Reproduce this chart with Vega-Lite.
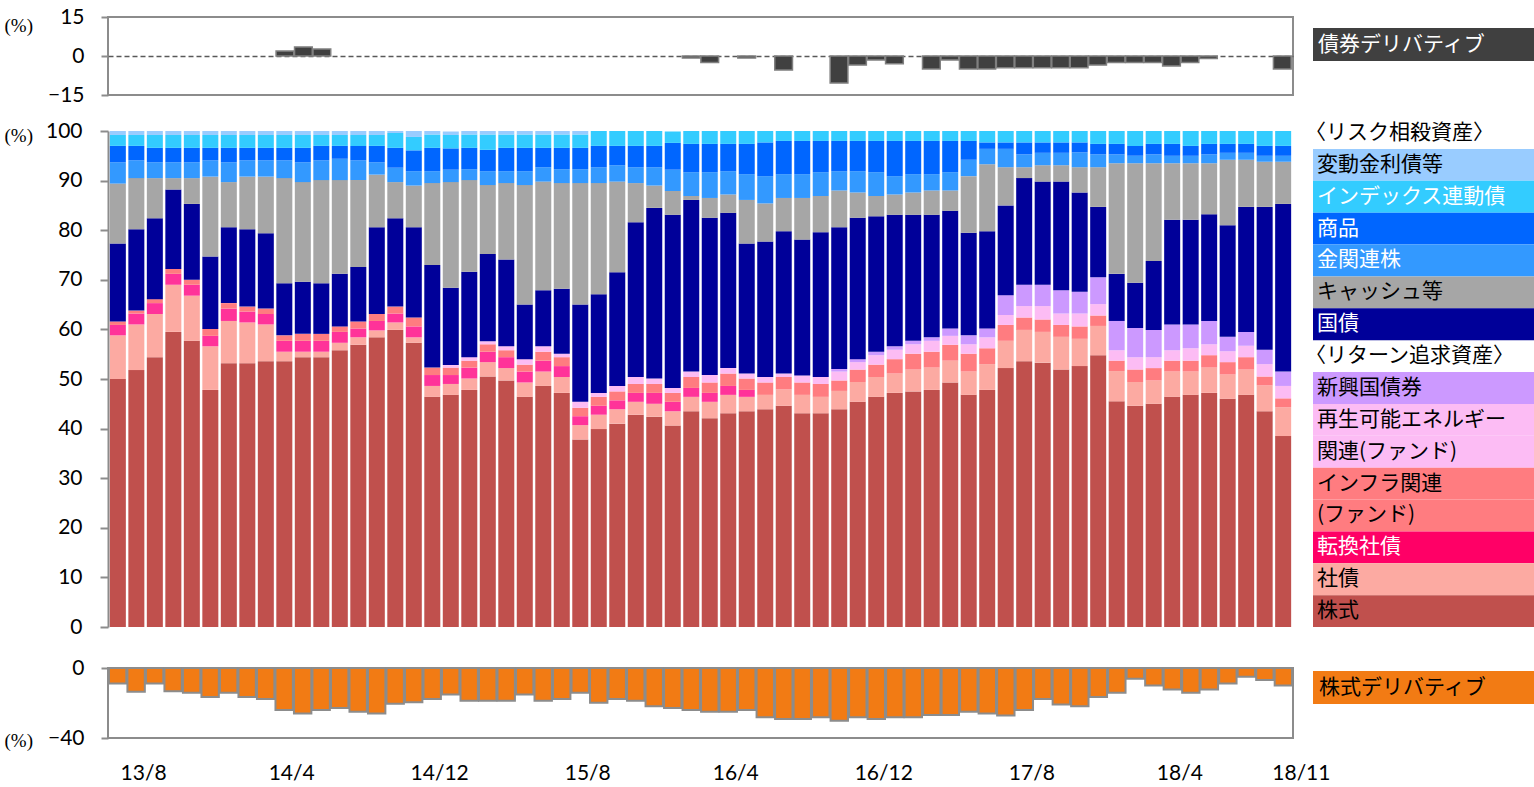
{
  "$schema": "https://vega.github.io/schema/vega-lite/v6.json",
  "padding": {"left": 3, "top": 5, "right": 0, "bottom": 0},
  "background": "white",
  "config": {"view": {"stroke": null}, "font": "Lato"},
  "datasets": {
    "alloc": [
      {"m":"13/8","eq":50.0,"corp":8.8,"conv":2.1,"infra":0.7,"renew":0,"em":0,"jgb":15.7,"cash":12.1,"gold":4.3,"cmdty":3.3,"linker":2.2,"floater":0.8,"bd":0,"ed":-8.8},
      {"m":"13/9","eq":51.8,"corp":9.2,"conv":2.2,"infra":0.6,"renew":0,"em":0,"jgb":16.4,"cash":10.3,"gold":3.6,"cmdty":2.9,"linker":2.2,"floater":0.8,"bd":0,"ed":-13.5},
      {"m":"13/10","eq":54.4,"corp":8.7,"conv":2.2,"infra":0.8,"renew":0,"em":0,"jgb":16.3,"cash":8.1,"gold":3.2,"cmdty":2.9,"linker":2.6,"floater":0.8,"bd":0,"ed":-8.8},
      {"m":"13/11","eq":59.5,"corp":9.5,"conv":2.2,"infra":1.0,"renew":0,"em":0,"jgb":16.0,"cash":2.3,"gold":3.2,"cmdty":2.9,"linker":2.6,"floater":0.8,"bd":0,"ed":-13.3},
      {"m":"13/12","eq":57.7,"corp":9.1,"conv":2.2,"infra":1.0,"renew":0,"em":0,"jgb":15.3,"cash":5.2,"gold":3.2,"cmdty":2.9,"linker":2.6,"floater":0.8,"bd":0,"ed":-14.2},
      {"m":"14/1","eq":47.8,"corp":8.8,"conv":2.1,"infra":1.4,"renew":0,"em":0,"jgb":14.6,"cash":16.1,"gold":3.3,"cmdty":2.5,"linker":2.6,"floater":0.8,"bd":0,"ed":-16.5},
      {"m":"14/2","eq":53.2,"corp":8.5,"conv":2.5,"infra":1.1,"renew":0,"em":0,"jgb":15.3,"cash":9.1,"gold":4.0,"cmdty":2.9,"linker":2.6,"floater":0.8,"bd":0,"ed":-14.2},
      {"m":"14/3","eq":53.2,"corp":8.2,"conv":2.2,"infra":1.0,"renew":0,"em":0,"jgb":15.6,"cash":10.6,"gold":3.3,"cmdty":2.5,"linker":2.6,"floater":0.8,"bd":0,"ed":-16.5},
      {"m":"14/4","eq":53.6,"corp":7.4,"conv":2.1,"infra":1.1,"renew":0,"em":0,"jgb":15.2,"cash":11.4,"gold":3.3,"cmdty":2.5,"linker":2.6,"floater":0.8,"bd":0,"ed":-17.7},
      {"m":"14/5","eq":53.6,"corp":1.9,"conv":2.2,"infra":1.1,"renew":0,"em":0,"jgb":10.5,"cash":21.2,"gold":3.6,"cmdty":2.5,"linker":2.6,"floater":0.8,"bd":1.9,"ed":-24.0},
      {"m":"14/6","eq":54.4,"corp":1.1,"conv":2.2,"infra":1.4,"renew":0,"em":0,"jgb":10.5,"cash":20.1,"gold":4.0,"cmdty":2.9,"linker":2.6,"floater":0.8,"bd":3.5,"ed":-26.0},
      {"m":"14/7","eq":54.4,"corp":1.1,"conv":2.2,"infra":1.4,"renew":0,"em":0,"jgb":10.2,"cash":20.8,"gold":4.0,"cmdty":2.9,"linker":2.2,"floater":0.8,"bd":2.7,"ed":-24.0},
      {"m":"14/8","eq":55.8,"corp":1.5,"conv":2.2,"infra":1.1,"renew":0,"em":0,"jgb":10.6,"cash":18.9,"gold":4.3,"cmdty":2.6,"linker":2.2,"floater":0.8,"bd":0,"ed":-22.9},
      {"m":"14/9","eq":56.9,"corp":1.5,"conv":1.8,"infra":1.4,"renew":0,"em":0,"jgb":11.0,"cash":17.5,"gold":4.0,"cmdty":2.9,"linker":2.2,"floater":0.8,"bd":0,"ed":-25.0},
      {"m":"14/10","eq":58.4,"corp":1.4,"conv":1.9,"infra":1.4,"renew":0,"em":0,"jgb":17.5,"cash":10.6,"gold":2.5,"cmdty":3.3,"linker":2.2,"floater":0.8,"bd":0,"ed":-26.0},
      {"m":"14/11","eq":59.9,"corp":1.5,"conv":1.8,"infra":1.4,"renew":0,"em":0,"jgb":17.8,"cash":7.3,"gold":2.9,"cmdty":4.0,"linker":3.0,"floater":0.4,"bd":0,"ed":-20.4},
      {"m":"14/12","eq":57.3,"corp":1.1,"conv":2.2,"infra":1.8,"renew":0,"em":0,"jgb":18.2,"cash":8.4,"gold":2.9,"cmdty":4.2,"linker":2.7,"floater":1.2,"bd":0,"ed":-19.6},
      {"m":"15/1","eq":46.4,"corp":2.2,"conv":2.2,"infra":1.5,"renew":0,"em":0,"jgb":20.7,"cash":16.5,"gold":2.4,"cmdty":4.7,"linker":2.7,"floater":0.7,"bd":0,"ed":-17.7},
      {"m":"15/2","eq":46.8,"corp":2.2,"conv":1.8,"infra":1.5,"renew":0.5,"em":0,"jgb":15.6,"cash":21.3,"gold":2.5,"cmdty":4.3,"linker":2.7,"floater":0.7,"bd":0,"ed":-15.2},
      {"m":"15/3","eq":47.8,"corp":2.3,"conv":2.2,"infra":1.4,"renew":0.7,"em":0,"jgb":17.2,"cash":18.5,"gold":2.2,"cmdty":4.3,"linker":2.7,"floater":0.7,"bd":0,"ed":-18.7},
      {"m":"15/4","eq":50.5,"corp":2.9,"conv":2.1,"infra":1.5,"renew":0.6,"em":0,"jgb":17.6,"cash":13.9,"gold":2.8,"cmdty":4.3,"linker":3.1,"floater":0.7,"bd":0,"ed":-18.7},
      {"m":"15/5","eq":49.7,"corp":2.5,"conv":2.2,"infra":1.4,"renew":0.8,"em":0,"jgb":17.5,"cash":15.4,"gold":2.4,"cmdty":4.7,"linker":2.7,"floater":0.7,"bd":0,"ed":-18.7},
      {"m":"15/6","eq":46.4,"corp":2.9,"conv":2.2,"infra":1.4,"renew":1.1,"em":0,"jgb":11.0,"cash":24.1,"gold":2.8,"cmdty":4.7,"linker":2.7,"floater":0.7,"bd":0,"ed":-15.2},
      {"m":"15/7","eq":48.6,"corp":2.9,"conv":2.2,"infra":1.8,"renew":1.1,"em":0,"jgb":11.3,"cash":21.9,"gold":2.9,"cmdty":3.9,"linker":2.7,"floater":0.7,"bd":0,"ed":-18.7},
      {"m":"15/8","eq":47.2,"corp":3.2,"conv":2.2,"infra":1.8,"renew":0.7,"em":0,"jgb":13.1,"cash":21.3,"gold":2.8,"cmdty":4.3,"linker":2.7,"floater":0.7,"bd":0,"ed":-17.7},
      {"m":"15/9","eq":37.8,"corp":2.9,"conv":1.8,"infra":1.7,"renew":1.2,"em":0,"jgb":19.6,"cash":24.5,"gold":2.8,"cmdty":4.3,"linker":2.7,"floater":0.7,"bd":0,"ed":-14.2},
      {"m":"15/10","eq":39.9,"corp":2.9,"conv":1.8,"infra":1.8,"renew":0.8,"em":0,"jgb":19.9,"cash":22.4,"gold":3.2,"cmdty":4.3,"linker":3.0,"floater":0,"bd":0,"ed":-19.8},
      {"m":"15/11","eq":41.0,"corp":2.9,"conv":1.8,"infra":1.8,"renew":1.1,"em":0,"jgb":22.9,"cash":18.3,"gold":3.3,"cmdty":3.9,"linker":3.0,"floater":0,"bd":0,"ed":-17.7},
      {"m":"15/12","eq":42.8,"corp":2.6,"conv":1.8,"infra":1.8,"renew":1.4,"em":0,"jgb":31.2,"cash":7.9,"gold":3.2,"cmdty":4.3,"linker":3.0,"floater":0,"bd":0,"ed":-18.7},
      {"m":"16/1","eq":42.4,"corp":2.6,"conv":2.2,"infra":1.8,"renew":1.1,"em":0,"jgb":34.4,"cash":4.5,"gold":3.7,"cmdty":4.3,"linker":3.0,"floater":0,"bd":0,"ed":-21.9},
      {"m":"16/2","eq":40.6,"corp":2.9,"conv":1.9,"infra":1.8,"renew":1.0,"em":0,"jgb":34.9,"cash":4.8,"gold":4.3,"cmdty":5.4,"linker":2.3,"floater":0,"bd":0,"ed":-22.9},
      {"m":"16/3","eq":43.5,"corp":2.9,"conv":1.8,"infra":2.2,"renew":1.1,"em":0,"jgb":34.6,"cash":0.8,"gold":4.8,"cmdty":5.7,"linker":2.6,"floater":0,"bd":-0.8,"ed":-24.0},
      {"m":"16/4","eq":42.1,"corp":3.3,"conv":1.8,"infra":2.1,"renew":1.5,"em":0,"jgb":31.7,"cash":4.0,"gold":5.2,"cmdty":5.7,"linker":2.6,"floater":0,"bd":-2.5,"ed":-25.0},
      {"m":"16/5","eq":43.1,"corp":3.7,"conv":1.8,"infra":2.5,"renew":1.1,"em":0,"jgb":31.3,"cash":3.7,"gold":4.7,"cmdty":5.5,"linker":2.6,"floater":0,"bd":0,"ed":-25.0},
      {"m":"16/6","eq":43.5,"corp":2.9,"conv":1.4,"infra":2.3,"renew":1.0,"em":0,"jgb":26.2,"cash":8.8,"gold":5.2,"cmdty":6.1,"linker":2.6,"floater":0,"bd":-0.8,"ed":-24.0},
      {"m":"16/7","eq":43.9,"corp":2.9,"conv":0,"infra":2.5,"renew":1.1,"em":0,"jgb":27.3,"cash":7.7,"gold":5.5,"cmdty":6.8,"linker":2.3,"floater":0,"bd":0,"ed":-28.1},
      {"m":"16/8","eq":44.6,"corp":3.3,"conv":0,"infra":2.5,"renew":0.7,"em":0,"jgb":28.7,"cash":6.7,"gold":4.8,"cmdty":6.7,"linker":2.0,"floater":0,"bd":-5.4,"ed":-29.2},
      {"m":"16/9","eq":43.1,"corp":3.7,"conv":0,"infra":2.5,"renew":1.4,"em":0,"jgb":27.4,"cash":8.4,"gold":4.8,"cmdty":6.7,"linker":2.0,"floater":0,"bd":0,"ed":-29.2},
      {"m":"16/10","eq":43.1,"corp":3.3,"conv":0,"infra":2.6,"renew":1.4,"em":0,"jgb":29.2,"cash":7.3,"gold":4.8,"cmdty":6.3,"linker":2.0,"floater":0,"bd":0,"ed":-28.1},
      {"m":"16/11","eq":43.9,"corp":3.7,"conv":0,"infra":2.1,"renew":1.8,"em":0.5,"jgb":28.6,"cash":7.4,"gold":3.9,"cmdty":6.1,"linker":2.0,"floater":0,"bd":-10.4,"ed":-30.2},
      {"m":"16/12","eq":45.4,"corp":4.0,"conv":0,"infra":2.5,"renew":1.5,"em":0.6,"jgb":28.5,"cash":5.1,"gold":4.3,"cmdty":6.1,"linker":2.0,"floater":0,"bd":-3.5,"ed":-28.1},
      {"m":"17/1","eq":46.4,"corp":4.0,"conv":0,"infra":2.5,"renew":1.9,"em":0.7,"jgb":27.3,"cash":4.1,"gold":4.8,"cmdty":6.3,"linker":2.0,"floater":0,"bd":-1.5,"ed":-29.2},
      {"m":"17/2","eq":47.2,"corp":3.9,"conv":0,"infra":2.9,"renew":1.9,"em":0.7,"jgb":26.5,"cash":4.1,"gold":3.7,"cmdty":7.1,"linker":2.0,"floater":0,"bd":-3.0,"ed":-28.1},
      {"m":"17/3","eq":47.5,"corp":4.4,"conv":0,"infra":3.2,"renew":1.9,"em":0.7,"jgb":25.4,"cash":4.5,"gold":3.7,"cmdty":6.7,"linker":2.0,"floater":0,"bd":0,"ed":-28.1},
      {"m":"17/4","eq":47.8,"corp":4.5,"conv":0,"infra":3.2,"renew":2.2,"em":0.7,"jgb":24.7,"cash":4.9,"gold":3.3,"cmdty":6.7,"linker":2.0,"floater":0,"bd":-5.0,"ed":-26.9},
      {"m":"17/5","eq":49.3,"corp":4.4,"conv":0,"infra":3.2,"renew":1.8,"em":1.5,"jgb":23.7,"cash":4.1,"gold":3.7,"cmdty":6.3,"linker":2.0,"floater":0,"bd":-1.5,"ed":-26.9},
      {"m":"17/6","eq":46.8,"corp":4.7,"conv":0,"infra":3.6,"renew":1.9,"em":1.8,"jgb":20.7,"cash":11.4,"gold":3.3,"cmdty":3.8,"linker":2.0,"floater":0,"bd":-5.0,"ed":-25.0},
      {"m":"17/7","eq":47.8,"corp":5.2,"conv":0,"infra":3.2,"renew":2.2,"em":1.8,"jgb":19.6,"cash":13.5,"gold":3.1,"cmdty":1.3,"linker":2.3,"floater":0,"bd":-5.0,"ed":-26.0},
      {"m":"17/8","eq":52.2,"corp":5.5,"conv":0,"infra":3.2,"renew":2.0,"em":4.0,"jgb":18.1,"cash":7.7,"gold":3.7,"cmdty":1.3,"linker":2.3,"floater":0,"bd":-4.5,"ed":-27.1},
      {"m":"17/9","eq":53.6,"corp":6.3,"conv":0,"infra":2.5,"renew":2.3,"em":4.3,"jgb":21.5,"cash":2.2,"gold":2.6,"cmdty":2.4,"linker":2.3,"floater":0,"bd":-4.5,"ed":-24.0},
      {"m":"17/10","eq":53.3,"corp":6.2,"conv":0,"infra":2.5,"renew":2.7,"em":4.3,"jgb":20.8,"cash":3.3,"gold":2.5,"cmdty":2.1,"linker":2.3,"floater":0,"bd":-4.5,"ed":-17.7},
      {"m":"17/11","eq":51.9,"corp":6.6,"conv":0,"infra":2.4,"renew":2.3,"em":4.7,"jgb":21.9,"cash":3.3,"gold":2.5,"cmdty":2.1,"linker":2.3,"floater":0,"bd":-4.5,"ed":-20.8},
      {"m":"17/12","eq":52.6,"corp":5.5,"conv":0,"infra":2.5,"renew":2.6,"em":4.4,"jgb":20.0,"cash":5.1,"gold":3.0,"cmdty":2.0,"linker":2.3,"floater":0,"bd":-4.5,"ed":-21.9},
      {"m":"18/1","eq":54.8,"corp":5.9,"conv":0,"infra":2.1,"renew":2.3,"em":5.4,"jgb":14.2,"cash":8.0,"gold":2.6,"cmdty":2.1,"linker":2.6,"floater":0,"bd":-3.5,"ed":-16.5},
      {"m":"18/2","eq":45.5,"corp":6.1,"conv":0,"infra":2.1,"renew":2.1,"em":5.9,"jgb":9.5,"cash":22.3,"gold":1.8,"cmdty":2.1,"linker":2.6,"floater":0,"bd":-2.5,"ed":-14.2},
      {"m":"18/3","eq":44.6,"corp":4.8,"conv":0,"infra":2.5,"renew":2.5,"em":5.9,"jgb":9.1,"cash":24.1,"gold":1.5,"cmdty":2.0,"linker":3.0,"floater":0,"bd":-2.5,"ed":-6.2},
      {"m":"18/4","eq":45.0,"corp":4.7,"conv":0,"infra":2.5,"renew":2.2,"em":5.5,"jgb":13.9,"cash":19.7,"gold":1.8,"cmdty":2.1,"linker":2.6,"floater":0,"bd":-2.5,"ed":-10.0},
      {"m":"18/5","eq":46.4,"corp":5.1,"conv":0,"infra":2.2,"renew":2.1,"em":5.2,"jgb":21.1,"cash":11.4,"gold":1.5,"cmdty":2.4,"linker":2.6,"floater":0,"bd":-3.8,"ed":-12.3},
      {"m":"18/6","eq":46.8,"corp":4.7,"conv":0,"infra":2.2,"renew":2.5,"em":4.8,"jgb":21.1,"cash":11.4,"gold":1.5,"cmdty":2.0,"linker":3.0,"floater":0,"bd":-2.5,"ed":-14.2},
      {"m":"18/7","eq":47.2,"corp":5.1,"conv":0,"infra":2.5,"renew":2.2,"em":4.7,"jgb":21.5,"cash":10.3,"gold":1.8,"cmdty":2.1,"linker":2.6,"floater":0,"bd":-1.0,"ed":-12.3},
      {"m":"18/8","eq":46.0,"corp":4.9,"conv":0,"infra":2.5,"renew":2.2,"em":2.9,"jgb":22.5,"cash":13.2,"gold":1.4,"cmdty":1.8,"linker":2.6,"floater":0,"bd":0,"ed":-8.8},
      {"m":"18/9","eq":46.8,"corp":5.1,"conv":0,"infra":2.5,"renew":2.3,"em":2.8,"jgb":25.2,"cash":9.5,"gold":1.4,"cmdty":1.8,"linker":2.6,"floater":0,"bd":0,"ed":-5.0},
      {"m":"18/10","eq":43.5,"corp":5.2,"conv":0,"infra":1.8,"renew":2.5,"em":2.9,"jgb":28.8,"cash":9.1,"gold":1.2,"cmdty":2.0,"linker":3.0,"floater":0,"bd":0,"ed":-6.9},
      {"m":"18/11","eq":38.5,"corp":5.8,"conv":0,"infra":1.8,"renew":2.5,"em":2.9,"jgb":33.8,"cash":8.5,"gold":1.2,"cmdty":2.0,"linker":3.0,"floater":0,"bd":-5.0,"ed":-10.0}
    ],
    "assets": [
      {"k":"eq","rank":1},{"k":"corp","rank":2},{"k":"conv","rank":3},{"k":"infra","rank":4},
      {"k":"renew","rank":5},{"k":"em","rank":6},{"k":"jgb","rank":7},{"k":"cash","rank":8},
      {"k":"gold","rank":9},{"k":"cmdty","rank":10},{"k":"linker","rank":11},{"k":"floater","rank":12}
    ],
    "legend": [
      {"line":"〈リスク相殺資産〉","k":null},
      {"line":"変動金利債等","k":"floater"},
      {"line":"インデックス連動債","k":"linker"},
      {"line":"商品","k":"cmdty"},
      {"line":"金関連株","k":"gold"},
      {"line":"キャッシュ等","k":"cash"},
      {"line":"国債","k":"jgb"},
      {"line":"〈リターン追求資産〉","k":null},
      {"line":"新興国債券","k":"em"},
      {"line":"再生可能エネルギー","k":"renew"},
      {"line":"関連(ファンド)","k":"renew"},
      {"line":"インフラ関連","k":"infra"},
      {"line":"(ファンド)","k":"infra"},
      {"line":"転換社債","k":"conv"},
      {"line":"社債","k":"corp"},
      {"line":"株式","k":"eq"}
    ]
  },
  "columns": 2,
  "spacing": {"row": 36, "column": 20},
  "bounds": "flush",
  "concat": [
    {
      "width": 1185,
      "height": 78,
      "view": {"stroke": "#8c8c8c", "strokeWidth": 2},
      "data": {"name": "alloc"},
      "mark": {"type": "bar", "color": "#404040", "stroke": "#808080", "strokeWidth": 1.5},
      "encoding": {
        "x": {"field": "m", "type": "ordinal", "sort": null, "axis": null, "scale": {"paddingInner": 0.04, "paddingOuter": 0.1}},
        "y": {
          "field": "bd", "type": "quantitative",
          "scale": {"domain": [-15, 15], "nice": false},
          "axis": {
            "values": [-15, 0, 15], "domain": false, "labelOverlap": false, "labelFlush": false,
            "grid": true, "gridColor": "#595959", "gridWidth": 1.5, "gridDash": [5, 3],
            "gridOpacity": {"condition": {"test": "datum.value === 0", "value": 1}, "value": 0},
            "tickColor": "#8c8c8c", "tickWidth": 2, "tickSize": 7,
            "labelPadding": 17, "labelFont": "Lato", "labelFontSize": 21, "labelColor": "#000000",
            "title": "(%)", "titleAngle": 0, "titleAlign": "left", "titleBaseline": "middle",
            "titleX": -104, "titleY": 8, "titleFont": "Liberation Serif", "titleFontSize": 19,
            "titleFontWeight": "normal", "titleColor": "#000000"
          }
        },
        "opacity": {"condition": {"test": "datum.bd === 0", "value": 0}, "value": 1}
      }
    },
    {
      "width": 222,
      "height": 78,
      "data": {"values": [{"line": "債券デリバティブ"}]},
      "encoding": {
        "y": {"field": "line", "type": "nominal", "axis": null, "scale": {"range": [11, 44], "paddingInner": 0, "paddingOuter": 0}}
      },
      "layer": [
        {"mark": {"type": "rect", "color": "#404040"}},
        {
          "mark": {"type": "text", "align": "left", "baseline": "middle", "dx": 5, "font": "Noto Sans CJK JP", "fontSize": 21, "color": "#ffffff"},
          "encoding": {"text": {"field": "line"}, "x": {"value": 0}}
        }
      ]
    },
    {
      "width": 1185,
      "height": 501,
      "data": {"name": "alloc"},
      "transform": [
        {"fold": ["eq", "corp", "conv", "infra", "renew", "em", "jgb", "cash", "gold", "cmdty", "linker", "floater"], "as": ["k", "value"]},
        {"lookup": "k", "from": {"data": {"name": "assets"}, "key": "k", "fields": ["rank"]}}
      ],
      "mark": {"type": "bar"},
      "encoding": {
        "x": {"field": "m", "type": "ordinal", "sort": null, "axis": null, "scale": {"paddingInner": 0.135, "paddingOuter": 0.1}},
        "y": {
          "field": "value", "type": "quantitative", "stack": "zero",
          "scale": {"domain": [0, 100], "range": [496, 0]},
          "axis": {
            "values": [0, 10, 20, 30, 40, 50, 60, 70, 80, 90, 100], "grid": false, "labelOverlap": false,
            "domainColor": "#8c8c8c", "domainWidth": 2,
            "tickColor": "#8c8c8c", "tickWidth": 2, "tickSize": 8,
            "labelPadding": 18, "labelFont": "Lato", "labelFontSize": 21, "labelColor": "#000000",
            "title": "(%)", "titleAngle": 0, "titleAlign": "left", "titleBaseline": "middle",
            "titleX": -104, "titleY": 4, "titleFont": "Liberation Serif", "titleFontSize": 19,
            "titleFontWeight": "normal", "titleColor": "#000000"
          }
        },
        "color": {
          "field": "k", "type": "nominal", "legend": null,
          "scale": {
            "domain": ["eq", "corp", "conv", "infra", "renew", "em", "jgb", "cash", "gold", "cmdty", "linker", "floater"],
            "range": ["#C0504D", "#FCAAA2", "#FF3399", "#FF7C80", "#FCBCF4", "#CC99FF", "#000099", "#A6A6A6", "#3399FF", "#0066FF", "#33CCFF", "#99CCFF"]
          }
        },
        "order": {"field": "rank", "type": "quantitative", "sort": "ascending"}
      }
    },
    {
      "width": 222,
      "height": 501,
      "data": {"name": "legend"},
      "encoding": {
        "y": {
          "field": "line", "type": "nominal", "axis": null,
          "scale": {
            "domain": ["〈リスク相殺資産〉", "変動金利債等", "インデックス連動債", "商品", "金関連株", "キャッシュ等", "国債", "〈リターン追求資産〉", "新興国債券", "再生可能エネルギー", "関連(ファンド)", "インフラ関連", "(ファンド)", "転換社債", "社債", "株式"],
            "range": [-14, 496], "paddingInner": 0, "paddingOuter": 0
          }
        }
      },
      "layer": [
        {
          "transform": [{"filter": "datum.k != null"}],
          "mark": {"type": "rect"},
          "encoding": {
            "fill": {
              "field": "k", "type": "nominal", "legend": null,
              "scale": {
                "domain": ["eq", "corp", "conv", "infra", "renew", "em", "jgb", "cash", "gold", "cmdty", "linker", "floater"],
                "range": ["#C0504D", "#FCAAA2", "#FF0066", "#FF7C80", "#FCBCF4", "#CC99FF", "#000099", "#A6A6A6", "#3399FF", "#0066FF", "#33CCFF", "#99CCFF"]
              }
            }
          }
        },
        {
          "transform": [{"filter": "datum.k != null"}],
          "mark": {"type": "text", "align": "left", "baseline": "middle", "dx": 4, "font": "Noto Sans CJK JP", "fontSize": 21},
          "encoding": {
            "text": {"field": "line"},
            "x": {"value": 0},
            "color": {
              "condition": {"test": "indexof(['linker','cmdty','gold','jgb','conv'], datum.k) >= 0", "value": "#ffffff"},
              "value": "#000000"
            }
          }
        },
        {
          "transform": [{"filter": "datum.k == null"}],
          "mark": {"type": "text", "align": "left", "baseline": "middle", "dx": -8, "font": "Noto Sans CJK JP", "fontSize": 21, "color": "#000000"},
          "encoding": {
            "text": {"field": "line"},
            "x": {"value": 0}
          }
        }
      ]
    },
    {
      "width": 1185,
      "height": 70,
      "view": {"stroke": "#8c8c8c", "strokeWidth": 2},
      "data": {"name": "alloc"},
      "mark": {"type": "bar", "color": "#F27B14", "stroke": "#8c8c8c", "strokeWidth": 2},
      "encoding": {
        "x": {
          "field": "m", "type": "ordinal", "sort": null,
          "scale": {"paddingInner": 0.06, "paddingOuter": 0.05},
          "axis": {
            "values": ["13/8", "14/4", "14/12", "15/8", "16/4", "16/12", "17/8", "18/4", "18/11"],
            "title": null, "domain": false, "ticks": false, "labelAngle": 0,
            "labelPadding": 24, "labelFont": "Lato", "labelFontSize": 21, "labelColor": "#000000",
            "labelOffset": {"condition": {"test": "datum.value === '18/11'", "value": 18}, "value": 26},
            "labelOverlap": false, "labelBound": false
          }
        },
        "y": {
          "field": "ed", "type": "quantitative",
          "scale": {"domain": [-40, 0], "nice": false},
          "axis": {
            "values": [0, -40], "grid": false, "domain": false, "labelOverlap": false,
            "tickColor": "#8c8c8c", "tickWidth": 2, "tickSize": 7,
            "labelPadding": 17, "labelFont": "Lato", "labelFontSize": 21, "labelColor": "#000000",
            "title": "(%)", "titleAngle": 0, "titleAlign": "left", "titleBaseline": "middle",
            "titleX": -104, "titleY": 72, "titleFont": "Liberation Serif", "titleFontSize": 19,
            "titleFontWeight": "normal", "titleColor": "#000000"
          }
        }
      }
    },
    {
      "width": 222,
      "height": 70,
      "data": {"values": [{"line": "株式デリバティブ"}]},
      "encoding": {
        "y": {"field": "line", "type": "nominal", "axis": null, "scale": {"range": [3, 36], "paddingInner": 0, "paddingOuter": 0}}
      },
      "layer": [
        {"mark": {"type": "rect", "color": "#F27B14"}},
        {
          "mark": {"type": "text", "align": "left", "baseline": "middle", "dx": 6, "font": "Noto Sans CJK JP", "fontSize": 21, "color": "#000000"},
          "encoding": {"text": {"field": "line"}, "x": {"value": 0}}
        }
      ]
    }
  ]
}
